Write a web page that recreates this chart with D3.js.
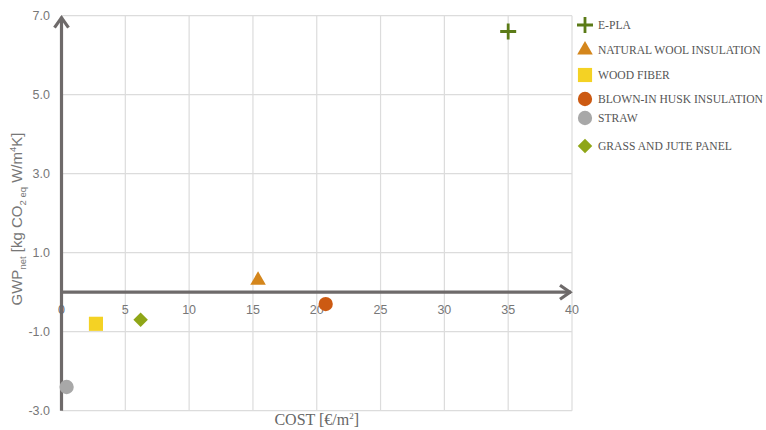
<!DOCTYPE html>
<html><head><meta charset="utf-8">
<script src="https://cdn.jsdelivr.net/npm/d3@7"></script>
<style>body{margin:0;background:#fff}</style>
</head><body>
<svg id="c" width="766" height="430"></svg>
<script>
const names = ["E-PLA","NATURAL WOOL INSULATION","WOOD FIBER","BLOWN-IN HUSK INSULATION","STRAW","GRASS AND JUTE PANEL"];
const costs = [35, 15.4, 2.7, 20.7, 0.4, 6.2];
const gwp = [6.6, 0.3, -0.8, -0.3, -2.4, -0.7];
const symbolsN = ["plus","triangle","square","circle","circle","diamond"];
const colors = ["#5b7b17","#d4861c","#f4d224","#cc5a12","#a8a8a8","#8fa617"];
const xTicks = [0,5,10,15,20,25,30,35,40];
const yTicks = [7,5,3,1,-1,-3];

const svg = d3.select("#c");
const x = d3.scaleLinear().domain([0,40]).range([61.5,572]);
const y = d3.scaleLinear().domain([-3,7]).range([410.7,15.7]);
const grid = "#dcdcdc", axisC = "#6e6a6a", txt = "#777";

// grid
svg.append("g").selectAll("line.v").data(xTicks.slice(1)).join("line")
  .attr("x1",d=>x(d)).attr("x2",d=>x(d)).attr("y1",y(7)).attr("y2",y(-3))
  .attr("stroke",grid).attr("stroke-width",1.2);
svg.append("g").selectAll("line.h").data(yTicks).join("line")
  .attr("x1",x(0)).attr("x2",x(40)).attr("y1",d=>y(d)).attr("y2",d=>y(d))
  .attr("stroke",grid).attr("stroke-width",1.2);

// y tick labels
svg.append("g").selectAll("text").data(yTicks).join("text")
  .attr("x",50).attr("y",d=>y(d)+4.5).attr("text-anchor","end")
  .attr("font-family","Liberation Sans, Arial, sans-serif").attr("font-size",12.5)
  .attr("fill",txt).text(d=>d.toFixed(1));

// axes with arrows
const ax = svg.append("g").attr("stroke",axisC).attr("stroke-width",3.2).attr("fill","none")
  .attr("stroke-linecap","butt");
ax.append("line").attr("x1",x(0)).attr("x2",x(0)).attr("y1",y(-3)).attr("y2",y(7)+1);
ax.append("path").attr("d",`M${x(0)-7},${y(7)+12} L${x(0)},${y(7)+2} L${x(0)+7},${y(7)+12}`);
ax.append("line").attr("x1",x(0)).attr("x2",x(40)-1).attr("y1",y(0)).attr("y2",y(0));
ax.append("path").attr("d",`M${x(40)-12},${y(0)-7} L${x(40)-2},${y(0)} L${x(40)-12},${y(0)+7}`);

// x tick labels
svg.append("g").selectAll("text").data(xTicks).join("text")
  .attr("x",d=>x(d)).attr("y",y(0)+22).attr("text-anchor","middle")
  .attr("font-family","Liberation Sans, Arial, sans-serif").attr("font-size",12.5)
  .attr("fill",d=>d===0?"#666":txt).text(d=>d);

// points
const symType = {triangle:d3.symbolTriangle, square:d3.symbolSquare, circle:d3.symbolCircle};
function drawSym(g, kind, color, cx, cy){
  if(kind==="plus"){
    g.append("path").attr("d",`M${cx-8},${cy} H${cx+8} M${cx},${cy-8} V${cy+8}`)
      .attr("stroke",color).attr("stroke-width",2.8).attr("fill","none");
  } else if(kind==="diamond"){
    g.append("path").attr("d",d3.symbol().type(d3.symbolSquare).size(105)())
      .attr("transform",`translate(${cx},${cy}) rotate(45)`).attr("fill",color);
  } else {
    const size = {triangle:105, square:200, circle:160}[kind];
    g.append("path").attr("d",d3.symbol().type(symType[kind]).size(size)())
      .attr("transform",`translate(${cx},${cy})`).attr("fill",color);
  }
}
const pts = svg.append("g");
names.forEach((n,i)=>drawSym(pts, symbolsN[i], colors[i], x(costs[i]), y(gwp[i])));

// legend
const legY = [25,50,75,99,118,146];
const leg = svg.append("g");
leg.append("rect").attr("x",573).attr("y",17).attr("width",193).attr("height",15).attr("fill","#fff");
names.forEach((n,i)=>{
  drawSym(leg, symbolsN[i], colors[i], 585, legY[i]);
  leg.append("text").attr("x",598).attr("y",legY[i]+4).attr("font-family","Liberation Serif, Times New Roman, serif")
    .attr("font-size",11.6).attr("fill","#555").text(n);
});

// axis titles
const xt = svg.append("text").attr("x",x(20)).attr("y",425).attr("text-anchor","middle")
  .attr("font-family","Liberation Serif, Times New Roman, serif").attr("font-size",16).attr("fill","#666");
xt.append("tspan").text("COST [€/m");
xt.append("tspan").attr("font-size",9).attr("dy",-6).text("2");
xt.append("tspan").attr("dy",6).text("]");

const yt = svg.append("text").attr("transform",`translate(22,219) rotate(-90)`).attr("text-anchor","middle")
  .attr("font-family","Liberation Sans, Arial, sans-serif").attr("font-size",15).attr("fill","#777");
yt.append("tspan").text("GWP");
yt.append("tspan").attr("font-size",9.5).attr("dy",4).text("net");
yt.append("tspan").attr("dy",-4).text(" [kg CO");
yt.append("tspan").attr("font-size",9.5).attr("dy",4).text("2 eq");
yt.append("tspan").attr("dy",-4).text(" W/m");
yt.append("tspan").attr("font-size",9.5).attr("dy",-6).text("4");
yt.append("tspan").attr("dy",6).text("K]");
</script>
</body></html>
